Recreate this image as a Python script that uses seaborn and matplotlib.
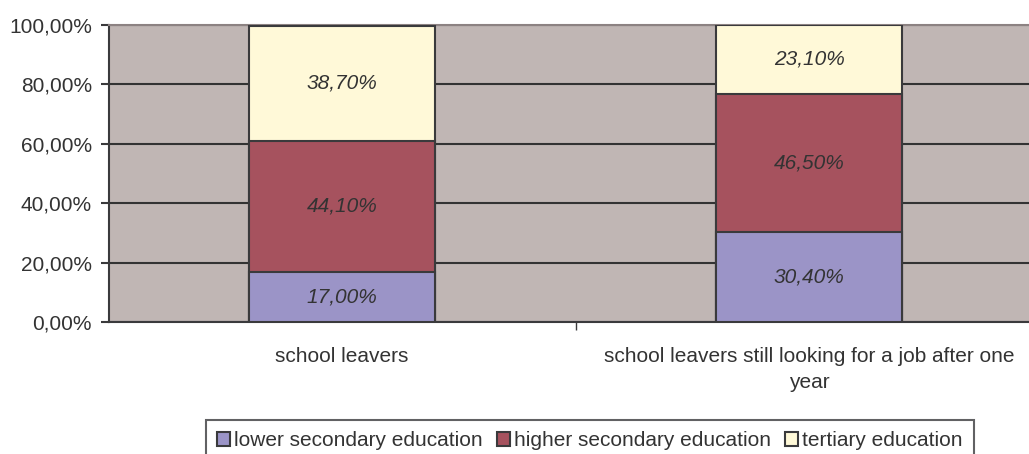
import matplotlib
matplotlib.use("Agg")
import matplotlib.pyplot as plt
from matplotlib.patches import Patch
import seaborn as sns
import pandas as pd
import numpy as np

categories = ["school leavers",
              "school leavers still looking for a job after one\nyear"]
series_names = ["lower secondary education", "higher secondary education",
                "tertiary education"]
lower_secondary = [17.0, 30.4]
higher_secondary = [44.1, 46.5]
tertiary = [38.7, 23.1]
y_ticks = [0, 20, 40, 60, 80, 100]

colors = ["#9b94c7", "#a6525e", "#fff9d8"]
edge = "#3a3a3c"
text_col = "#333333"

sns.set_theme(style="white")
plt.rcParams["font.family"] = ["Liberation Sans", "DejaVu Sans"]

fig = plt.figure(figsize=(10.29, 4.54), dpi=100)
ax = fig.add_axes([108.5 / 1029, 1 - 322 / 454, 934 / 1029, 297 / 454])
ax.set_facecolor("#c0b6b4")

series = [lower_secondary, higher_secondary, tertiary]
cum = np.cumsum(np.array(series), axis=0)

# stacked bars drawn as cumulative totals, tallest first
for i in range(len(series) - 1, -1, -1):
    df = pd.DataFrame({"cat": categories, "val": cum[i]})
    sns.barplot(data=df, x="cat", y="val", color=colors[i], ax=ax,
                width=0.4, edgecolor=edge, linewidth=1.5, saturation=1,
                zorder=3)

# segment labels
for i, vals in enumerate(series):
    for j, v in enumerate(vals):
        mid = cum[i][j] - v / 2
        ax.text(j, mid, f"{v:.2f}%".replace(".", ","), ha="center",
                va="center", fontsize=15, style="italic", color=text_col,
                zorder=4)

ax.set_xlim(-0.5, 1.5)
ax.set_ylim(0, 100)
ax.set_yticks(y_ticks)
ax.set_yticklabels([f"{t:.2f}%".replace(".", ",") for t in y_ticks],
                   fontsize=15, color=text_col)
ax.yaxis.grid(True, color="#333333", linewidth=1.5, zorder=1)
ax.set_axisbelow(True)

ax.set_xticks([0, 1])
ax.set_xticklabels(categories, fontsize=15, color=text_col,
                   linespacing=1.45)
ax.tick_params(axis="x", length=0, pad=18)
ax.set_xticks([0.5], minor=True)
ax.tick_params(axis="x", which="minor", length=6, width=1, color=edge,
               direction="out", bottom=True)
ax.tick_params(axis="y", length=6, width=1.5, color=edge, direction="out",
               left=True, pad=6)
ax.set_xlabel("")
ax.set_ylabel("")

for s in ["left", "bottom"]:
    ax.spines[s].set_color(edge)
    ax.spines[s].set_linewidth(1.5)
ax.spines["top"].set_color("#8c8282")
ax.spines["top"].set_linewidth(1.5)
ax.spines["right"].set_visible(False)

handles = [Patch(facecolor=c, edgecolor=edge, linewidth=1.5) for c in colors]
leg = fig.legend(handles, series_names, loc="upper center",
                 bbox_to_anchor=(590 / 1029, 1 - 420 / 454), ncol=3,
                 fontsize=15, frameon=True, fancybox=False,
                 handlelength=0.6, handleheight=0.6, handletextpad=0.2,
                 columnspacing=0.7, borderpad=0.55, borderaxespad=0)
leg.get_frame().set_edgecolor(edge)
leg.get_frame().set_linewidth(1.5)
for t in leg.get_texts():
    t.set_color(text_col)

fig.savefig("out.png", dpi=100)
